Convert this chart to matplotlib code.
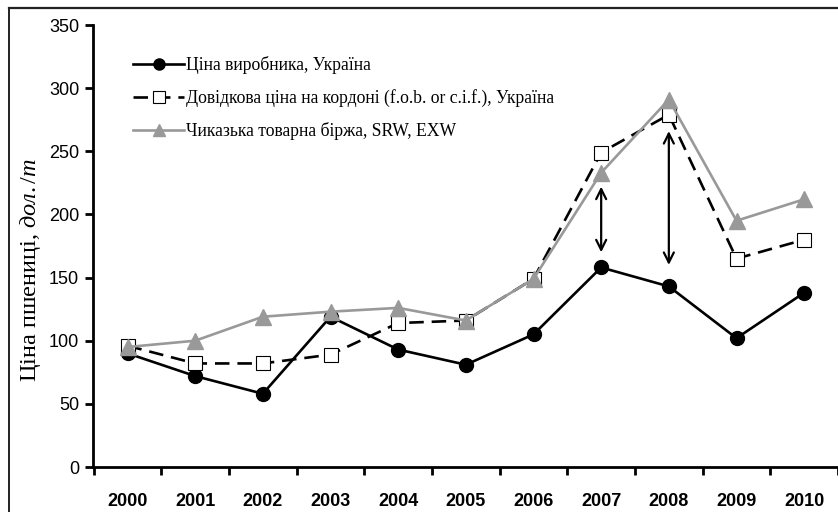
import matplotlib.pyplot as plt
from matplotlib.lines import Line2D
import numpy as np

# data
years = ['2000', '2001', '2002', '2003', '2004', '2005', '2006', '2007', '2008', '2009', '2010']
producer = [90, 72, 58, 119, 93, 81, 105, 158, 143, 102, 138]
border = [96, 82, 82, 89, 114, 116, 149, 249, 279, 165, 180]
chicago = [95, 100, 119, 123, 126, 116, 149, 233, 291, 195, 212]

# double arrows (year index, top, bottom)
arrow_idx = [7, 8]
arrow_top = [222, 266]
arrow_bottom = [170, 160]

labels = ['Ціна виробника, Україна',
          'Довідкова ціна на кордоні (f.o.b. or c.i.f.), Україна',
          'Чиказька товарна біржа, SRW, EXW']

plt.rcParams['mathtext.fontset'] = 'custom'
plt.rcParams['mathtext.rm'] = 'Liberation Serif'
plt.rcParams['mathtext.it'] = 'Liberation Serif:italic'

W, H = 838, 512
fig = plt.figure(figsize=(W / 100, H / 100), dpi=100)
ax = fig.add_axes([93 / W, 1 - 467 / H, (W - 93) / W, (467 - 25) / H])

x = np.arange(len(years))
grey = '#999999'

ax.plot(x, producer, color='black', lw=1.9, marker='o', ms=10, label=labels[0], zorder=3)
ax.plot(x, border, color='black', lw=1.9, dashes=(5.5, 3), marker='s', ms=10,
        mfc='white', mec='black', mew=0.8, label=labels[1], zorder=4)
ax.plot(x, chicago, color=grey, lw=1.9, marker='^', ms=11, mfc=grey, mec=grey,
        label=labels[2], zorder=5)

for i, t, b in zip(arrow_idx, arrow_top, arrow_bottom):
    ax.annotate('', xy=(i, b), xytext=(i, t),
                arrowprops=dict(arrowstyle='<->', color='black', lw=1.6,
                                mutation_scale=18, shrinkA=0, shrinkB=0))

ax.set_ylim(0, 350)
ax.set_yticks(np.arange(0, 351, 50))
ax.set_xlim(-0.51, 10.365)
ax.set_xticks(x)
ax.set_xticklabels(years, fontfamily='Liberation Sans', fontweight='bold', fontsize=13)
ax.set_xticks(np.arange(-0.5, 11, 1), minor=True)
ax.tick_params(axis='x', which='major', length=0, pad=19)
ax.tick_params(axis='x', which='minor', length=6, width=2, direction='out')
ax.tick_params(axis='y', length=6, width=2, direction='out', labelsize=13, pad=4)
for lab in ax.get_yticklabels():
    lab.set_fontfamily('Liberation Sans')

for s in ['top', 'right']:
    ax.spines[s].set_visible(False)
for s in ['left', 'bottom']:
    ax.spines[s].set_linewidth(2)

ax.set_ylabel('Ціна пшениці, $\\mathit{дол./т}$', fontfamily='Liberation Serif',
              fontsize=17.5)
ax.yaxis.set_label_coords(43 / W, 1 - 270 / H, transform=fig.transFigure)

ax.legend(loc='upper left', bbox_to_anchor=(133 / W, 1 - 56 / H),
          bbox_transform=fig.transFigure, frameon=False, borderpad=0,
          borderaxespad=0, handlelength=2.9, handletextpad=0.1,
          labelspacing=0.85, markerscale=0.8,
          prop={'family': 'Liberation Serif', 'size': 12.7})

# outer frame (left and top edges visible)
fig.add_artist(Line2D([8.5 / W, 8.5 / W], [0, 1 - 8 / H], transform=fig.transFigure,
                      color='#222222', lw=1.4))
fig.add_artist(Line2D([8.5 / W, 1], [1 - 8 / H, 1 - 8 / H], transform=fig.transFigure,
                      color='#222222', lw=1.6))

fig.savefig('out.png', dpi=100)
